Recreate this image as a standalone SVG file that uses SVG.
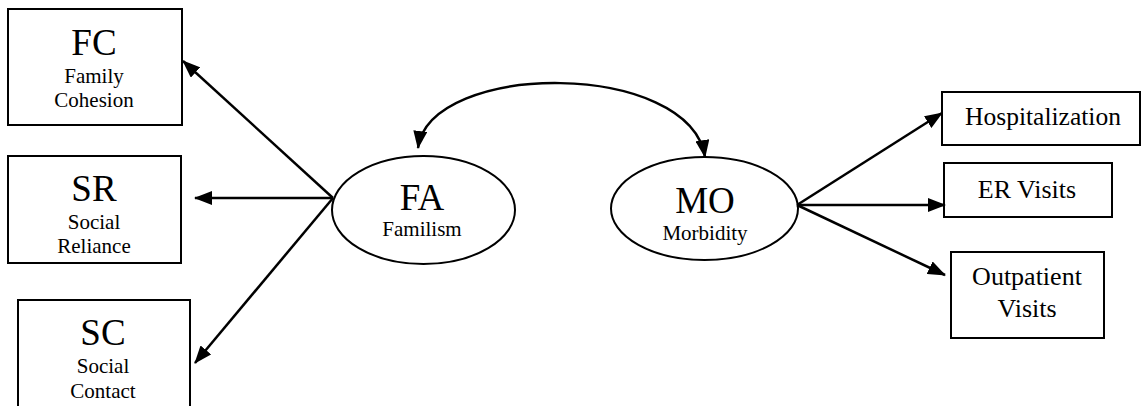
<svg xmlns="http://www.w3.org/2000/svg" width="1142" height="406" viewBox="0 0 1142 406">
<style>
.box{fill:#fff;stroke:#000;stroke-width:2}
.edge{fill:none;stroke:#000;stroke-width:2.5}
text{fill:#000;text-anchor:middle}
</style>
<defs>
<marker id="ah" viewBox="0 0 18 14" refX="17" refY="7" markerWidth="18" markerHeight="14" markerUnits="userSpaceOnUse" orient="auto">
<path d="M0,0 L18,7 L0,14 Z" fill="#000"/>
</marker>
<marker id="ahs" viewBox="0 0 18 14" refX="1" refY="7" markerWidth="18" markerHeight="14" markerUnits="userSpaceOnUse" orient="auto">
<path d="M18,0 L0,7 L18,14 Z" fill="#000"/>
</marker>
</defs>
<rect width="1142" height="406" fill="#fff"/>
<g font-family="'Liberation Serif', 'Times New Roman', serif">
<g id="FC">
<rect class="box" x="8" y="9" width="174" height="116"/>
<text x="94" y="55" font-size="37">FC</text>
<text x="94" y="83" font-size="21">Family</text>
<text x="94" y="107" font-size="21">Cohesion</text>
</g>
<g id="SR">
<rect class="box" x="8" y="156" width="173" height="107"/>
<text x="94" y="201" font-size="37">SR</text>
<text x="94" y="229" font-size="21">Social</text>
<text x="94" y="253" font-size="21">Reliance</text>
</g>
<g id="SC">
<rect class="box" x="18" y="300" width="172" height="120"/>
<text x="103" y="345" font-size="37">SC</text>
<text x="103" y="373" font-size="21">Social</text>
<text x="103" y="398" font-size="21">Contact</text>
</g>
<g id="FA">
<ellipse class="box" cx="423.5" cy="210" rx="91.5" ry="54"/>
<text x="422" y="210" font-size="37">FA</text>
<text x="422" y="236" font-size="21">Familism</text>
</g>
<g id="MO">
<ellipse class="box" cx="704.5" cy="208.5" rx="93.5" ry="51.5"/>
<text x="705" y="213" font-size="37">MO</text>
<text x="705" y="240" font-size="21">Morbidity</text>
</g>
<g id="HOSP">
<rect class="box" x="942" y="92" width="198" height="53"/>
<text x="1043" y="125" font-size="25.5">Hospitalization</text>
</g>
<g id="ER">
<rect class="box" x="944" y="163" width="168" height="54"/>
<text x="1027" y="198" font-size="26">ER Visits</text>
</g>
<g id="OUT">
<rect class="box" x="951" y="252" width="153" height="86"/>
<text x="1027" y="285" font-size="26">Outpatient</text>
<text x="1027" y="317" font-size="26">Visits</text>
</g>
</g>
<g id="connectors">
<line class="edge" x1="333" y1="198" x2="183" y2="61" marker-end="url(#ah)"/>
<line class="edge" x1="333" y1="198" x2="195" y2="198" marker-end="url(#ah)"/>
<line class="edge" x1="333" y1="198" x2="195" y2="363" marker-end="url(#ah)"/>
<line class="edge" x1="797" y1="205" x2="942" y2="113" marker-end="url(#ah)"/>
<line class="edge" x1="797" y1="205" x2="945" y2="205" marker-end="url(#ah)"/>
<line class="edge" x1="797" y1="205" x2="945" y2="275" marker-end="url(#ah)"/>
<path class="edge" d="M418,148 C430,60 690,60 705,157" marker-start="url(#ahs)" marker-end="url(#ah)"/>
</g>
</svg>
